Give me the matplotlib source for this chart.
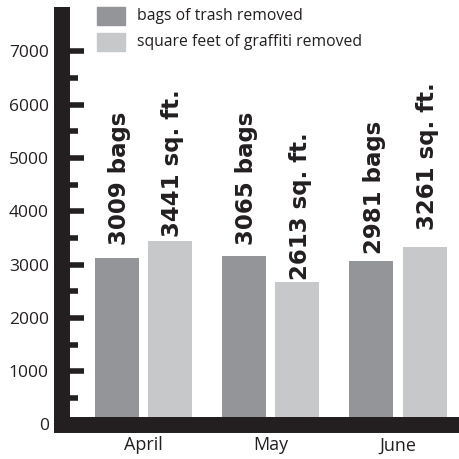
import numpy as np
import matplotlib
matplotlib.use("Agg")
import matplotlib.pyplot as plt
from matplotlib.patches import Rectangle

# datos
meses = ["April", "May", "June"]
bolsas = [3120, 3160, 3065]          # altura de barra (bags of trash removed)
grafiti = [3440, 2670, 3330]         # altura de barra (square feet of graffiti removed)
etiquetas_bolsas = ["3009 bags", "3065 bags", "2981 bags"]
etiquetas_grafiti = ["3441 sq. ft.", "2613 sq. ft.", "3261 sq. ft."]
leyenda = ["bags of trash removed", "square feet of graffiti removed"]

# estilo
negro = "#231f20"
gris_oscuro = "#939598"
gris_claro = "#c7c8ca"
sep_bolsas = [13, 11, 7]     # px sobre la barra
sep_grafiti = [4, 2, 17]

plt.rcParams["font.family"] = ["Open Sans", "DejaVu Sans"]

W, H = 460, 459
fig = plt.figure(figsize=(W / 100, H / 100), dpi=100)
ax = fig.add_axes([62 / W, (H - 424.5) / H, (W - 62) / W, 417.5 / H])

x = np.arange(len(meses))
ancho = 0.346
desp = 0.209
ax.bar(x - desp, bolsas, ancho, color=gris_oscuro, zorder=1)
ax.bar(x + desp, grafiti, ancho, color=gris_claro, zorder=1)

for i in range(len(meses)):
    ax.annotate(etiquetas_bolsas[i], (x[i] - desp, bolsas[i]),
                xytext=(2, sep_bolsas[i] * 0.72), textcoords="offset points",
                rotation=90, ha="center", va="bottom", fontsize=16.5,
                fontweight="bold", family="DejaVu Sans", color=negro)
    ax.annotate(etiquetas_grafiti[i], (x[i] + desp, grafiti[i]),
                xytext=(2, sep_grafiti[i] * 0.72), textcoords="offset points",
                rotation=90, ha="center", va="bottom", fontsize=16.5,
                fontweight="bold", family="DejaVu Sans", color=negro)

ax.set_xlim(-(143.5 - 62) / 127.25, (W - 143.5) / 127.25)
ax.set_ylim(0, 417.5 / 53.33 * 1000)

ax.set_xticks(x)
ax.set_xticklabels(meses)
ax.set_yticks(np.arange(0, 7001, 1000))
ax.set_yticks(np.arange(500, 7000, 1000), minor=True)

ax.tick_params(axis="x", length=0, pad=8.5, labelsize=13, labelcolor=negro)
ax.tick_params(axis="y", which="major", direction="in", length=15.8, width=4,
               color=negro, pad=9.5, labelsize=12.5, labelcolor=negro)
ax.tick_params(axis="y", which="minor", direction="in", length=11.5, width=4,
               color=negro)
# el 0 no lleva marca
ax.yaxis.get_major_ticks()[0].tick1line.set_visible(False)

for lado in ["top", "right"]:
    ax.spines[lado].set_visible(False)
for lado in ["left", "bottom"]:
    ax.spines[lado].set_linewidth(11.5)
    ax.spines[lado].set_color(negro)
ax.spines["left"].set_capstyle("butt")
ax.spines["bottom"].set_capstyle("projecting")

# leyenda manual
colores = [gris_oscuro, gris_claro]
filas_y = [16, 41.5]
for c, yy, txt in zip(colores, filas_y, leyenda):
    fig.add_artist(Rectangle((97 / W, (H - yy - 9) / H), 28 / W, 18 / H,
                             transform=fig.transFigure, color=c))
    fig.text(137 / W, (H - yy) / H, txt, fontsize=11.3, color=negro,
             va="center", ha="left")

fig.savefig("out.png", dpi=100)
